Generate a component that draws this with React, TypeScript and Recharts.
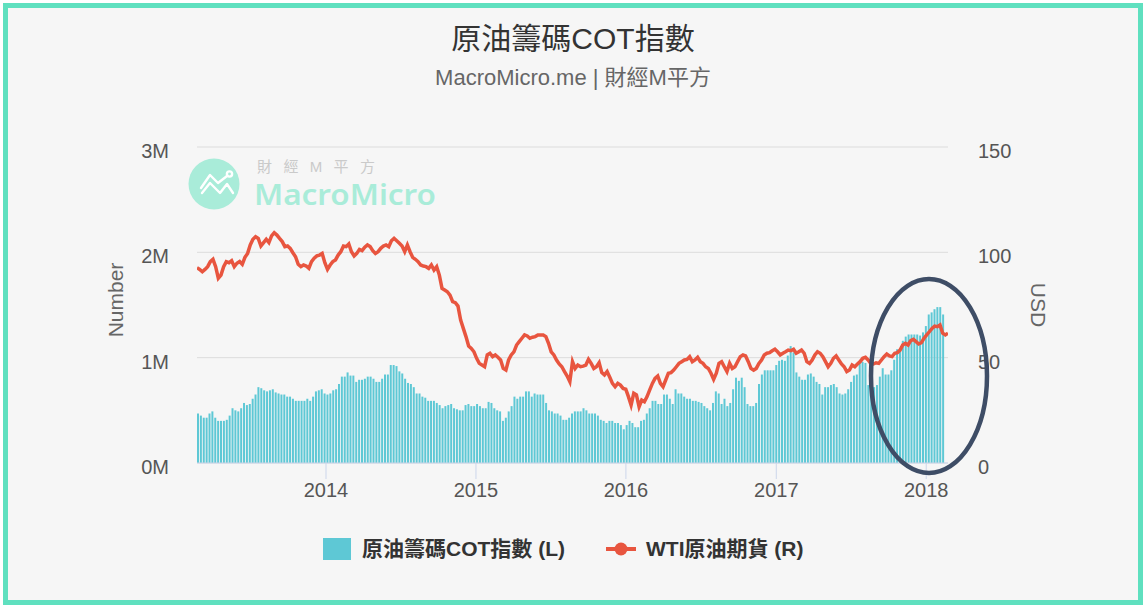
import React from 'react';
import { ComposedChart, Bar, Line, XAxis, YAxis, CartesianGrid } from 'recharts';

const TITLE = '原油籌碼COT指數';
const SUBTITLE = 'MacroMicro.me | 財經M平方';
const COT_NAME = '原油籌碼COT指數 (L)';
const WTI_NAME = 'WTI原油期貨 (R)';

const YEARS = [2014, 2015, 2016, 2017, 2018];
const LEFT_TICKS = [0, 1, 2, 3];
const RIGHT_TICKS = [0, 50, 100, 150];

// weekly COT reports, first one on 2013-02-26 (millions)
const COT_START = '2013-02-26';
const cotValues = [
  0.47, 0.45, 0.43, 0.43, 0.47, 0.49, 0.43, 0.40, 0.40, 0.40, 0.41, 0.45, 0.52, 0.50, 0.49, 0.52, 0.57, 0.55, 0.56, 0.61,
  0.65, 0.72, 0.71, 0.69, 0.68, 0.69, 0.70, 0.67, 0.66, 0.65, 0.65, 0.63, 0.63, 0.61, 0.59, 0.59, 0.59, 0.59, 0.61, 0.59,
  0.63, 0.68, 0.69, 0.70, 0.66, 0.65, 0.66, 0.69, 0.70, 0.75, 0.82, 0.82,
  0.86, 0.83, 0.83, 0.77, 0.79, 0.79, 0.80, 0.82, 0.82, 0.80, 0.77, 0.77, 0.80, 0.84, 0.84, 0.93, 0.93, 0.92, 0.87, 0.85,
  0.80, 0.76, 0.75, 0.72, 0.66, 0.66, 0.63, 0.62, 0.59, 0.59, 0.59, 0.57, 0.55, 0.52, 0.54, 0.55, 0.56, 0.52, 0.51, 0.50,
  0.50, 0.55, 0.56, 0.54, 0.54, 0.56, 0.54, 0.52, 0.52, 0.58, 0.57,
  0.52, 0.50, 0.49, 0.40, 0.43, 0.49, 0.54, 0.63, 0.61, 0.63, 0.63, 0.68, 0.68, 0.63, 0.66, 0.65, 0.65, 0.65, 0.57, 0.50,
  0.49, 0.47, 0.47, 0.45, 0.41, 0.41, 0.43, 0.47, 0.49, 0.49, 0.49, 0.52, 0.50, 0.47, 0.47, 0.47, 0.45, 0.41, 0.40, 0.38,
  0.40, 0.40, 0.38, 0.38, 0.36, 0.32, 0.36, 0.40, 0.38, 0.34, 0.34, 0.40,
  0.41, 0.47, 0.52, 0.59, 0.59, 0.56, 0.56, 0.65, 0.65, 0.61, 0.56, 0.70, 0.66, 0.66, 0.63, 0.61, 0.61, 0.59, 0.59, 0.58,
  0.57, 0.54, 0.52, 0.50, 0.57, 0.68, 0.66, 0.56, 0.61, 0.54, 0.57, 0.70, 0.81, 0.78, 0.81, 0.72, 0.56, 0.54, 0.54, 0.57,
  0.75, 0.84, 0.88, 0.88, 0.88, 0.88, 0.93, 0.97, 0.98, 0.97, 1.02, 1.11,
  1.05, 0.86, 0.82, 0.79, 0.79, 0.84, 0.85, 0.82, 0.77, 0.75, 0.65, 0.72, 0.72, 0.74, 0.75, 0.72, 0.66, 0.65, 0.66, 0.70,
  0.77, 0.83, 0.84, 0.97, 0.96, 0.95, 0.74, 0.75, 0.72, 0.74, 0.82, 0.90, 0.84, 0.84, 0.88, 0.98, 1.08, 1.09, 1.16, 1.20,
  1.22, 1.22, 1.22, 1.22, 1.21, 1.24, 1.30, 1.41, 1.43, 1.46, 1.48, 1.48, 1.41,
];

// WTI front month, evenly spaced samples between these dates (USD)
const WTI_START = '2013-02-21';
const WTI_END = '2018-02-23';
const wtiValues = [
  92.7, 91.9, 90.8, 91.9, 93.2, 95.6, 96.7, 93.2, 87.7, 89.2, 93.2, 95.6, 95.1, 96.0, 93.2, 94.8, 95.6, 94.3, 97.6, 99.5,
  103.5, 106.2, 107.4, 106.6, 103.0, 104.6, 106.2, 104.6, 107.8, 109.3, 108.2, 106.6, 105.1, 102.7, 103.0, 101.9, 99.8, 97.9, 94.3, 93.2,
  94.0, 93.5, 92.4, 95.6, 97.2, 98.3, 98.7, 99.5, 95.1, 91.9, 94.0, 95.6, 96.4, 98.7, 100.3,
  103.0, 102.7, 104.0, 100.3, 98.3, 99.5, 101.4, 100.8, 102.4, 103.5, 102.7, 100.8, 99.5, 100.3, 101.9, 103.0, 103.5, 102.7, 105.5, 106.6,
  105.5, 104.3, 103.0, 100.3, 103.5, 100.3, 97.6, 96.7, 95.6, 94.0, 93.5, 93.2, 92.4, 94.0, 91.6, 93.2, 89.2, 82.9, 82.1, 81.3,
  79.7, 76.6, 76.1, 74.5, 67.9, 63.9, 60.0, 55.5, 54.4, 52.8, 49.7, 47.3, 46.5, 45.7, 51.3, 52.1, 50.5,
  51.3, 50.2, 48.9, 44.9, 44.1, 48.9, 51.3, 52.8, 56.0, 57.6, 59.2, 60.8, 60.3, 59.2, 59.7, 60.0, 60.8, 60.8, 60.8, 60.0,
  56.8, 52.8, 51.3, 48.9, 47.0, 45.7, 43.4, 41.3, 38.6, 48.1, 44.9, 46.5, 45.7, 46.0, 46.5, 49.2, 47.3, 44.9, 45.7, 47.6,
  42.9, 41.8, 43.4, 40.7, 37.8, 36.2, 37.8, 37.0, 35.4, 35.0, 31.5, 27.5, 33.1, 32.3, 26.7, 29.9,
  29.1, 31.5, 34.7, 37.8, 40.2, 41.3, 37.8, 36.2, 39.4, 42.6, 42.9, 44.1, 45.7, 47.3, 48.1, 48.9, 49.2, 50.5, 48.1, 48.9,
  50.2, 48.1, 47.3, 45.7, 44.9, 42.6, 39.7, 42.6, 47.3, 48.1, 45.7, 43.4, 47.3, 44.9, 45.7, 48.1, 50.5, 51.3, 50.8, 48.1,
  44.9, 44.1, 44.9, 47.3, 48.9, 51.3, 52.1, 52.4, 53.3, 54.0, 52.8, 51.3, 52.1, 52.8, 53.6, 53.3, 54.0,
  52.1, 52.8, 53.6, 52.1, 48.1, 47.3, 48.9, 51.3, 52.8, 52.1, 50.5, 48.1, 45.7, 47.3, 49.7, 50.8, 48.9, 47.0, 45.7, 43.4,
  44.1, 46.5, 45.7, 47.0, 48.1, 49.7, 50.2, 48.9, 47.3, 47.0, 47.6, 47.3, 48.9, 50.5, 51.7, 50.8, 50.5, 52.1, 52.4, 53.6,
  56.0, 56.8, 56.0, 58.1, 58.7, 57.6, 56.5, 57.1, 59.2, 60.8, 62.3, 63.9, 65.0, 64.7, 65.5, 61.6, 60.8, 61.6,
];

const COT_COLOR = '#5ec8d5';
const WTI_COLOR = '#e8553f';
const FONT = '"Liberation Sans", "Noto Sans CJK TC", sans-serif';

const DAY = 86400000;
const cotStart = Date.parse(COT_START);
const wtiStart = Date.parse(WTI_START);
const wtiEnd = Date.parse(WTI_END);

const cotData = cotValues.map((v, i) => ({ t: cotStart + i * 7 * DAY, cot: v }));
const wtiData = wtiValues.map((v, i) => ({
  t: wtiStart + ((wtiEnd - wtiStart) * i) / (wtiValues.length - 1),
  wti: v,
}));

const xDomain = [wtiStart, wtiEnd];
const yearTicks = YEARS.map((y) => Date.UTC(y, 0, 1));

const tickStyle = { fill: '#555', fontSize: 20, fontFamily: FONT };

const Watermark = () => (
  <svg width={1146} height={608} style={{ position: 'absolute', left: 0, top: 0, pointerEvents: 'none' }}>
    <circle cx={214} cy={184} r={25.5} fill="#a9ecd9" />
    <g fill="none" stroke="#fff" strokeWidth={2.4} strokeLinecap="round" strokeLinejoin="round">
      <polyline points="201,188 210,175 218,183 227,176" />
      <circle cx={229.5} cy={174} r={2.6} />
      <polyline points="202,193 210,183 220,193 227,184 233,193" />
    </g>
    <text x={257} y={172} fontSize={15} fill="#cacaca" fontFamily={FONT} textLength={118} lengthAdjust="spacing">
      財經M平方
    </text>
    <text x={254} y={205} fontSize={29} fontWeight={600} fill="#a9ecd9" fontFamily='"Noto Sans", sans-serif' textLength={182} lengthAdjust="spacingAndGlyphs">
      MacroMicro
    </text>
  </svg>
);

const Overlay = () => (
  <svg width={1146} height={608} style={{ position: 'absolute', left: 0, top: 0, pointerEvents: 'none' }}>
    <text x={115} y={300} transform="rotate(-90 115 300)" textAnchor="middle" dominantBaseline="central" fontSize={21} fill="#666" fontFamily={FONT}>
      Number
    </text>
    <text x={1038} y={305} transform="rotate(90 1038 305)" textAnchor="middle" dominantBaseline="central" fontSize={21} fill="#666" fontFamily={FONT}>
      USD
    </text>
    <ellipse cx={929} cy={376} rx={58} ry={97} fill="none" stroke="#3e4d66" strokeWidth={4.5} />
  </svg>
);

const LegendRow = () => (
  <div style={{ position: 'absolute', top: 535, left: 0, width: 1146, height: 30, fontFamily: FONT, fontWeight: 700, fontSize: 21, color: '#333' }}>
    <div style={{ position: 'absolute', left: 323, top: 3, width: 28, height: 22, background: COT_COLOR }} />
    <div style={{ position: 'absolute', left: 362, top: 0, lineHeight: '28px', whiteSpace: 'nowrap' }}>{COT_NAME}</div>
    <svg width={32} height={28} style={{ position: 'absolute', left: 605, top: 0 }}>
      <line x1={1} y1={14} x2={31} y2={14} stroke={WTI_COLOR} strokeWidth={4} />
      <circle cx={16} cy={14} r={6.5} fill={WTI_COLOR} />
    </svg>
    <div style={{ position: 'absolute', left: 646, top: 0, lineHeight: '28px', whiteSpace: 'nowrap' }}>{WTI_NAME}</div>
  </div>
);

export default function App() {
  return (
    <div style={{ position: 'relative', width: 1146, height: 608, background: '#fff', fontFamily: FONT }}>
      <style>{'body{margin:0}'}</style>
      <div
        style={{
          position: 'absolute',
          left: 3,
          top: 3,
          width: 1140,
          height: 602,
          boxSizing: 'border-box',
          border: '5px solid #5fe0bf',
          background: '#f6f6f6',
        }}
      />
      <div style={{ position: 'absolute', top: 20, left: 0, width: 1146, textAlign: 'center', fontSize: 30, color: '#333', lineHeight: '38px' }}>
        {TITLE}
      </div>
      <div style={{ position: 'absolute', top: 64, left: 0, width: 1146, textAlign: 'center', fontSize: 22, color: '#666', lineHeight: '28px' }}>
        {SUBTITLE}
      </div>
      <Watermark />
      <div style={{ position: 'absolute', left: 0, top: 0 }}>
        <ComposedChart width={1146} height={608} data={cotData} margin={{ top: 147, right: 138, bottom: 115, left: 137 }}>
          <CartesianGrid yAxisId="left" xAxisId="time" vertical={false} stroke="#dcdcdc" />
          {/* one slot per weekly report, spread over the same span as the time axis */}
          <XAxis xAxisId="week" dataKey="t" type="category" hide padding={{ left: 0, right: 3 }} />
          <XAxis
            xAxisId="time"
            dataKey="t"
            type="number"
            domain={xDomain}
            allowDataOverflow
            ticks={yearTicks}
            tickFormatter={(v) => String(new Date(v).getUTCFullYear())}
            height={30}
            stroke="#ccd6eb"
            tickSize={16}
            tickMargin={4}
            tick={tickStyle}
          />
          <YAxis
            yAxisId="left"
            width={60}
            domain={[0, 3]}
            ticks={LEFT_TICKS}
            tickFormatter={(v) => `${v}M`}
            axisLine={false}
            tickLine={false}
            tickSize={0}
            tickMargin={28}
            tick={{ ...tickStyle, dy: 4 }}
          />
          <YAxis
            yAxisId="right"
            orientation="right"
            width={60}
            domain={[0, 150]}
            ticks={RIGHT_TICKS}
            axisLine={false}
            tickLine={false}
            tickSize={0}
            tickMargin={30}
            tick={{ ...tickStyle, dy: 4 }}
          />
          <Bar
            xAxisId="week"
            yAxisId="left"
            dataKey="cot"
            name={COT_NAME}
            fill={COT_COLOR}
            barSize={2}
            isAnimationActive={false}
          />
          <Line
            xAxisId="time"
            yAxisId="right"
            data={wtiData}
            dataKey="wti"
            name={WTI_NAME}
            stroke={WTI_COLOR}
            strokeWidth={3.5}
            dot={false}
            type="linear"
            isAnimationActive={false}
          />
        </ComposedChart>
      </div>
      <Overlay />
      <LegendRow />
    </div>
  );
}
